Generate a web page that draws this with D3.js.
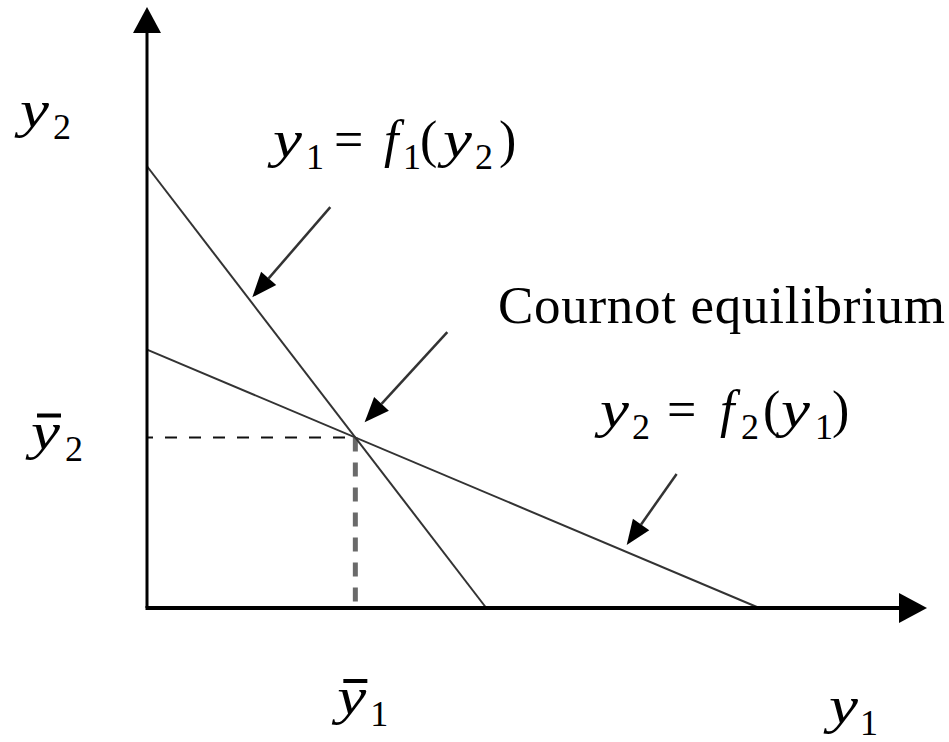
<!DOCTYPE html>
<html>
<head>
<meta charset="utf-8">
<script src="https://cdn.jsdelivr.net/npm/d3@7"></script>
<style>
    html, body { margin: 0; padding: 0; background: #fff; }
    text, tspan { font-family: "Liberation Serif", "Times New Roman", serif; fill: #000; }
</style>
</head>
<body>
<script>
(function() {

    // Cournot reaction curves, in arbitrary units (0..100 on both axes)

    var f1Intercepts = [43.5, 73.5];   // [y1 axis, y2 axis]
    var f2Intercepts = [78.5, 43];

    // label arrows: [from, to] in data units
    var arrowF1 = [[23.5, 66.7], [13.5, 51.7]];
    var arrowEq = [[38.5, 45.9], [27.9, 30.9]];
    var arrowF2 = [[67.9, 22.3], [61.5, 10.5]];

    var axisLabels = ["y_2", "y_1"];
    var barLabels = ["y_1", "y_2"];
    var curveLabels = ["y_1 = f_1(y_2)", "y_2 = f_2(y_1)"];
    var pointLabel = "Cournot equilibrium";

    var width = 949,
        height = 742;

    var x = d3.scaleLinear().domain([0, 100]).range([147, 927]);
    var y = d3.scaleLinear().domain([0, 100]).range([608, 7]);

    var svg = d3.select("body")
        .append("svg")
        .attr("width", width)
        .attr("height", height);

    // intersection of the two straight lines
    var s1 = f1Intercepts[1] / f1Intercepts[0],
        s2 = f2Intercepts[1] / f2Intercepts[0];
    var ex = (f1Intercepts[1] - f2Intercepts[1]) / (s1 - s2),
        ey = f2Intercepts[1] - s2 * ex;

    var line = d3.line()
        .x(function(d) { return x(d[0]); })
        .y(function(d) { return y(d[1]); });

    // dashed guides
    svg.append("path")
        .attr("d", line([[0, ey], [ex, ey]]))
        .attr("stroke", "#111")
        .attr("stroke-width", 2)
        .attr("stroke-dasharray", "12,12")
        .attr("stroke-dashoffset", 6)
        .attr("fill", "none");

    svg.append("path")
        .attr("d", line([[ex, ey], [ex, 0]]))
        .attr("stroke", "#6a6a6a")
        .attr("stroke-width", 5)
        .attr("stroke-dasharray", "14,11")
        .attr("fill", "none");

    // reaction curves
    svg.selectAll("path.curve")
        .data([f1Intercepts, f2Intercepts])
        .enter()
        .append("path")
        .attr("class", "curve")
        .attr("d", function(d) { return line([[0, d[1]], [d[0], 0]]); })
        .attr("stroke", "#333")
        .attr("stroke-width", 2)
        .attr("fill", "none");

    // axes with arrow heads
    var axisG = svg.append("g");
    axisG.append("line")
        .attr("x1", x(0)).attr("y1", y(0))
        .attr("x2", x(0)).attr("y2", y(96))
        .attr("stroke", "#000").attr("stroke-width", 3);
    axisG.append("line")
        .attr("x1", x(0) - 1.5).attr("y1", y(0))
        .attr("x2", x(97)).attr("y2", y(0))
        .attr("stroke", "#000").attr("stroke-width", 4);
    axisG.append("path")
        .attr("d", "M" + x(0) + "," + y(100) + "l-14,26h28z")
        .attr("fill", "#000");
    axisG.append("path")
        .attr("d", "M" + x(100) + "," + y(0) + "l-28,-15v30z")
        .attr("fill", "#000");

    // label arrows
    var drawArrow = function(a) {
        var p0 = [x(a[0][0]), y(a[0][1])],
            p1 = [x(a[1][0]), y(a[1][1])];
        var ang = Math.atan2(p1[1] - p0[1], p1[0] - p0[0]);
        var len = 25, half = 10;
        var bx = p1[0] - len * Math.cos(ang),
            by = p1[1] - len * Math.sin(ang);
        svg.append("line")
            .attr("x1", p0[0]).attr("y1", p0[1])
            .attr("x2", bx).attr("y2", by)
            .attr("stroke", "#333").attr("stroke-width", 2.5);
        svg.append("path")
            .attr("d", "M" + p1[0] + "," + p1[1] +
                "L" + (bx - half * Math.sin(ang)) + "," + (by + half * Math.cos(ang)) +
                "L" + (bx + half * Math.sin(ang)) + "," + (by - half * Math.cos(ang)) + "Z")
            .attr("fill", "#000");
    };
    [arrowF1, arrowEq, arrowF2].forEach(drawArrow);

    // math label: letters italic, "_d" gives a subscript; each token placed at px + offs[k]
    var mathText = function(str, px, py, offs) {
        var t = svg.append("text")
            .attr("y", py)
            .style("font-size", "52px");
        var k = 0;
        for (var i = 0; i < str.length; i++) {
            var c = str[i];
            if (c === " ") continue;
            var ts = t.append("tspan")
                .attr("x", px + offs[k])
                .attr("font-family", "Liberation Serif");
            k++;
            if (c === "_") {
                ts.attr("y", py + 12)
                    .style("font-size", "36px")
                    .text(str[i + 1]);
                i++;
                continue;
            }
            ts.attr("y", py).text(c);
            if (/[a-z]/.test(c)) ts.style("font-style", "italic");
            // the reference y is drawn wider than the Times glyph
            if (c === "y") ts.attr("textLength", 29).attr("lengthAdjust", "spacingAndGlyphs");
        }
        return t;
    };

    mathText(axisLabels[0], 19, 127, [1, 34]);
    mathText(axisLabels[1], 828, 723, [1, 32]);

    // equilibrium values with over-bars
    var barred = [
        [x(ex) - 19, 714, 34],
        [30, y(ey) + 11, 35]
    ];
    barred.forEach(function(b, i) {
        mathText(barLabels[i], b[0], b[1], [1, b[2]]);
        svg.append("line")
            .attr("x1", b[0] + 7).attr("x2", b[0] + 31)
            .attr("y1", b[1] - 33).attr("y2", b[1] - 33)
            .attr("stroke", "#000").attr("stroke-width", 4);
    });

    mathText(curveLabels[0], 272, 157, [1, 34, 62, 112, 131, 148, 171, 203, 227]);
    mathText(curveLabels[1], 600, 427, [0, 32, 67, 120, 141, 163, 181, 215, 232]);

    svg.append("text")
        .attr("x", 498)
        .attr("y", 323)
        .attr("textLength", 447)
        .attr("lengthAdjust", "spacing")
        .style("font-size", "53px")
        .text(pointLabel);

})();
</script>
</body>
</html>
